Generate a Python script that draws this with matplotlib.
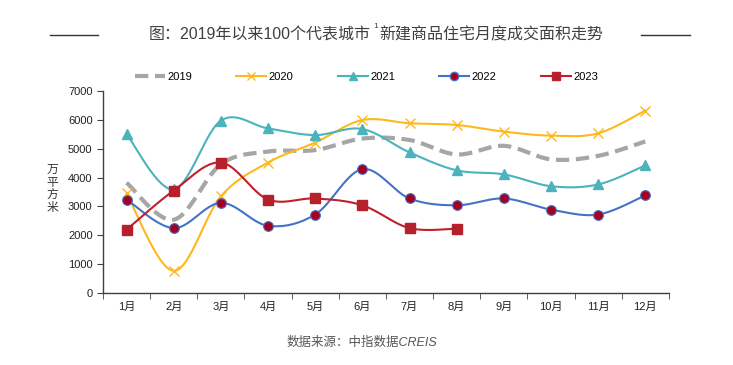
import numpy as np
import matplotlib.pyplot as plt
from matplotlib.lines import Line2D

plt.rcParams['font.family'] = ['Liberation Sans', 'Noto Sans CJK SC', 'DejaVu Sans']

# --- DATA ---
months = ['1月', '2月', '3月', '4月', '5月', '6月', '7月', '8月', '9月', '10月', '11月', '12月']
y2019 = [3820, 2540, 4460, 4900, 4950, 5350, 5300, 4800, 5100, 4630, 4750, 5250]
y2020 = [3450, 770, 3350, 4520, 5210, 5990, 5880, 5820, 5590, 5450, 5530, 6320]
y2021 = [5500, 3590, 5970, 5700, 5470, 5680, 4870, 4250, 4110, 3700, 3760, 4420]
y2022 = [3240, 2250, 3125, 2330, 2720, 4290, 3275, 3040, 3275, 2890, 2720, 3380]
y2023 = [2195, 3550, 4520, 3240, 3275, 3040, 2250, 2230]


def smooth(y, n=30):
    # Excel-style smoothed line (Catmull-Rom style bezier)
    y = np.asarray(y, dtype=float)
    x = np.arange(len(y), dtype=float)
    px, py = [x[0]], [y[0]]
    for i in range(len(y) - 1):
        x0, y0 = (x[i - 1], y[i - 1]) if i > 0 else (x[i], y[i])
        x3, y3 = (x[i + 2], y[i + 2]) if i + 2 < len(y) else (x[i + 1], y[i + 1])
        c1x = x[i] + (x[i + 1] - x0) / 6
        c1y = y[i] + (y[i + 1] - y0) / 6
        c2x = x[i + 1] - (x3 - x[i]) / 6
        c2y = y[i + 1] - (y3 - y[i]) / 6
        t = np.linspace(0, 1, n)[1:]
        bx = (1-t)**3*x[i] + 3*(1-t)**2*t*c1x + 3*(1-t)*t**2*c2x + t**3*x[i+1]
        by = (1-t)**3*y[i] + 3*(1-t)**2*t*c1y + 3*(1-t)*t**2*c2y + t**3*y[i+1]
        px.extend(bx)
        py.extend(by)
    return np.array(px), np.array(py)


fig = plt.figure(figsize=(7.33, 3.65), dpi=100)
ax = fig.add_axes([0.1405, 0.197, 0.772, 0.554])

axis_col = '#404040'

# 2019 gray dashed, no markers
sx, sy = smooth(y2019)
ax.plot(sx, sy, color='#A6A6A6', lw=3, ls=(0, (3.2, 1.6)), zorder=2)

# 2020 gold with x markers
sx, sy = smooth(y2020)
ax.plot(sx, sy, color='#FFB81C', lw=1.5, zorder=3)
ax.plot(range(len(y2020)), y2020, ls='none', marker='x', ms=6.5, mew=1.0,
        color='#FFB81C', zorder=3)

# 2021 teal with triangles
sx, sy = smooth(y2021)
ax.plot(sx, sy, color='#4BB3BC', lw=1.5, zorder=3)
ax.plot(range(len(y2021)), y2021, ls='none', marker='^', ms=7,
        color='#4BB3BC', zorder=3)

# 2022 blue line, dark red dots with blue edge
sx, sy = smooth(y2022)
ax.plot(sx, sy, color='#4472C4', lw=1.5, zorder=4)
ax.plot(range(len(y2022)), y2022, ls='none', marker='o', ms=7,
        mfc='#A50021', mec='#4472C4', mew=0.8, zorder=4)

# 2023 red with squares
sx, sy = smooth(y2023)
ax.plot(sx, sy, color='#C0202A', lw=1.5, zorder=5)
ax.plot(range(len(y2023)), y2023, ls='none', marker='s', ms=7.5,
        color='#B5202A', zorder=5)

# axes styling
ax.set_xlim(-0.5, 11.5)
ax.set_ylim(0, 7000)
ax.set_yticks(range(0, 7001, 1000))
ax.set_xticks(range(12))
ax.set_xticklabels(months)
ax.set_xticks(np.arange(-0.5, 12, 1), minor=True)
ax.tick_params(axis='x', which='major', length=0, labelsize=8, colors='#222222', pad=6)
ax.tick_params(axis='x', which='minor', length=4, direction='out', color=axis_col)
ax.tick_params(axis='y', length=4, direction='out', color=axis_col, labelsize=8,
               colors='#222222')
for side in ['top', 'right']:
    ax.spines[side].set_visible(False)
for side in ['left', 'bottom']:
    ax.spines[side].set_color(axis_col)
    ax.spines[side].set_linewidth(1.0)

# stacked vertical unit label, one character per row
for k, ch in enumerate('万平方米'):
    ax.text(-0.09, 0.61 - k * 0.062, ch, transform=ax.transAxes, fontsize=8.5,
            color='#333333', ha='center', va='center', family='Noto Sans CJK SC')

# legend
handles = [
    Line2D([0], [0], color='#A6A6A6', lw=3, ls=(0, (3.2, 1.6))),
    Line2D([0], [0], color='#FFB81C', lw=1.5, marker='x', ms=6),
    Line2D([0], [0], color='#4BB3BC', lw=1.5, marker='^', ms=6),
    Line2D([0], [0], color='#4472C4', lw=1.5, marker='o', ms=6,
           mfc='#A50021', mec='#4472C4'),
    Line2D([0], [0], color='#C0202A', lw=1.5, marker='s', ms=6, mfc='#B5202A'),
]
fig.legend(handles, ['2019', '2020', '2021', '2022', '2023'], loc='center',
           bbox_to_anchor=(0.5, 0.79), ncol=5, frameon=False, fontsize=8,
           handlelength=2.7, handletextpad=0.2, columnspacing=4.0)

# title with dashes
fig.text(0.203, 0.905, '图：2019年以来100个代表城市', ha='left', va='center',
         fontsize=11.5, color='#404040')
fig.text(0.513, 0.928, '1', ha='center', va='center', fontsize=6, color='#404040')
fig.text(0.517, 0.905, '新建商品住宅月度成交面积走势', ha='left', va='center',
         fontsize=11.5, color='#404040')
fig.add_artist(Line2D([0.068, 0.134], [0.905, 0.905], color='#333333', lw=1))
fig.add_artist(Line2D([0.874, 0.942], [0.905, 0.905], color='#333333', lw=1))

# source
fig.text(0.494, 0.06, '数据来源：中指数据CREIS', ha='center', va='center',
         fontsize=9, color='#555555', style='italic')

fig.savefig('out.png', dpi=100)
